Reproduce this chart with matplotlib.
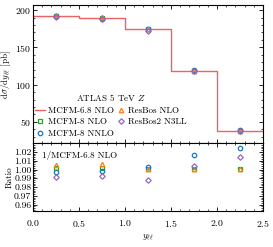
import numpy as np
import matplotlib
matplotlib.use("Agg")
import matplotlib.pyplot as plt

plt.rcParams['font.family'] = 'serif'
plt.rcParams['font.serif'] = ['cmr10']
plt.rcParams['mathtext.fontset'] = 'cm'
plt.rcParams['axes.formatter.use_mathtext'] = True
plt.rcParams['font.size'] = 6.5
plt.rcParams['xtick.labelsize'] = 7
plt.rcParams['ytick.labelsize'] = 7

# rapidity bins
bin_edges = [0.0, 0.5, 1.0, 1.5, 2.0, 2.5]
bin_centers = [0.25, 0.75, 1.25, 1.75, 2.25]

# MCFM-6.8 NLO cross section [pb]
mcfm68 = [192.0, 189.0, 174.5, 118.0, 37.5]

# ratios to MCFM-6.8 NLO
r_mcfm8_nlo = [1.0014, 1.0018, 1.001, 1.001, 1.001]
r_mcfm8_nnlo = [0.9976, 0.9987, 1.003, 1.0168, 1.025]
r_resbos_nlo = [1.005, 1.006, 1.001, 1.0005, 1.001]
r_resbos2 = [0.9912, 0.9927, 0.9878, 1.0042, 1.0147]

series = [
    ("MCFM-8 NLO", r_mcfm8_nlo, "s", "#2ca02c"),
    ("MCFM-8 NNLO", r_mcfm8_nnlo, "o", "#1f77b4"),
    ("ResBos NLO", r_resbos_nlo, "^", "#ff7f0e"),
    ("ResBos2 N3LL", r_resbos2, "D", "#9467bd"),
]

fig = plt.figure(figsize=(2.73, 2.47), dpi=100)
gs = fig.add_gridspec(2, 1, height_ratios=[138.5, 67.5], hspace=0,
                      left=0.121, right=0.963, top=0.980, bottom=0.146)
ax1 = fig.add_subplot(gs[0])
ax2 = fig.add_subplot(gs[1], sharex=ax1)

x_step = np.array(bin_edges)
y_step = np.append(mcfm68, mcfm68[-1])
line, = ax1.step(x_step, y_step, where='post', color='#ee4448', lw=1.0,
                 alpha=0.85, label='MCFM-6.8 NLO')

handles = {}
for name, r, m, c in series:
    vals = np.array(r) * np.array(mcfm68)
    ms = 2.8 if m == "D" else 3.2
    h, = ax1.plot(bin_centers, vals, ls='none', marker=m, ms=ms, mfc='none',
                  mec=c, mew=0.9, label=name)
    ax2.plot(bin_centers, r, ls='none', marker=m, ms=ms, mfc='none',
             mec=c, mew=0.9)
    handles[name] = h

leg_handles = [line, handles["MCFM-8 NLO"], handles["MCFM-8 NNLO"],
               handles["ResBos NLO"], handles["ResBos2 N3LL"]]
leg_labels = ["MCFM-6.8 NLO", "MCFM-8 NLO", "MCFM-8 NNLO",
              "ResBos NLO", "ResBos2 N3LL"]
leg = ax1.legend(leg_handles, leg_labels, ncol=2, loc='lower left',
                 bbox_to_anchor=(-0.015, 0.0), frameon=False,
                 title=r'ATLAS 5 TeV $Z$', title_fontsize=6.5,
                 handlelength=1.15, handletextpad=0.25, columnspacing=0.2,
                 labelspacing=0.35, borderaxespad=0.2)

ax1.set_xlim(0, 2.5)
ax1.set_ylim(21, 207)
ax1.set_yticks([50, 100, 150, 200])
ax1.set_ylabel(r'$\mathrm{d}\sigma/\mathrm{d}y_{\ell\ell}$ [pb]')
plt.setp(ax1.get_xticklabels(), visible=False)

ax2.set_ylim(0.9528, 1.0297)
ax2.set_yticks([0.96, 0.97, 0.98, 0.99, 1.00, 1.01, 1.02])
ax2.set_yticklabels(['0.96', '0.97', '0.98', '0.99', '1.00', '1.01', '1.02'])
ax2.set_xticks([0.0, 0.5, 1.0, 1.5, 2.0, 2.5])
ax2.set_xlabel(r'$y_{\ell\ell}$', labelpad=3)
ax2.set_ylabel('Ratio')
ax2.text(0.1, 1.016, '1/MCFM-6.8 NLO', ha='left', va='center')

for ax in (ax1, ax2):
    ax.minorticks_on()
    ax.tick_params(which='both', direction='in', top=True, right=True, pad=1.2)
    ax.tick_params(which='major', length=3, width=0.6)
    ax.tick_params(which='minor', length=1.5, width=0.5)
    for s in ax.spines.values():
        s.set_linewidth(0.8)
    ax.yaxis.set_label_coords(-0.085, 0.5)
ax2.tick_params(axis='x', pad=5)

fig.savefig('out.png', dpi=100)
